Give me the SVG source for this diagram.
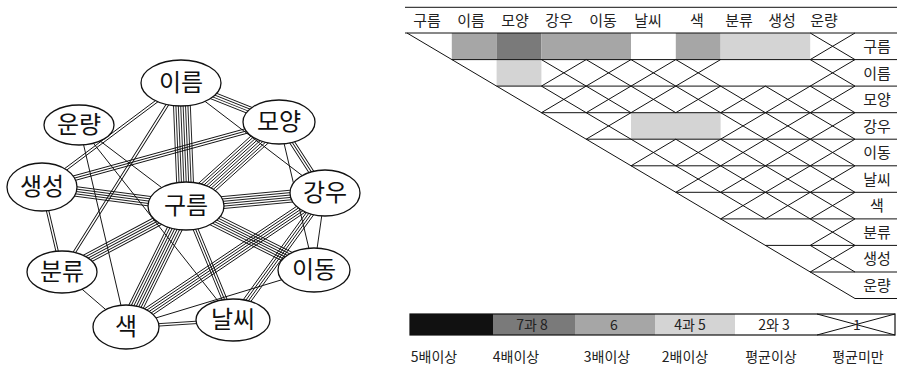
<svg xmlns="http://www.w3.org/2000/svg" width="897" height="373" viewBox="0 0 897 373">
<style>
.e{fill:none;stroke:#111;stroke-width:0.9}
.nd ellipse{fill:#fff;stroke:#111;stroke-width:1.3}
.nd text{font-family:"Noto Sans CJK KR","Noto Sans",sans-serif;font-size:24px;fill:#111;text-anchor:middle}
.gl{fill:none;stroke:#111;stroke-width:1}
.hd{font-family:"Noto Sans CJK KR","Noto Sans",sans-serif;font-size:15px;fill:#222;text-anchor:middle}
.lg{font-family:"Noto Sans CJK KR","Noto Sans",sans-serif;font-size:14px;fill:#222;text-anchor:middle}
.D{fill:#7a7a7a}.M{fill:#a6a6a6}.L{fill:#d4d4d4}
</style>
<rect width="897" height="373" fill="#fff"/>
<g id="connectors">
<path class="e" transform="translate(181 83) rotate(87.67)" d="M0,-8.4h123M0,-6h123M0,-3.6h123M0,-1.2h123M0,1.2h123M0,3.6h123M0,6h123M0,8.4h123"/>
<path class="e" transform="translate(279 122) rotate(137.92)" d="M0,-8.4h125M0,-6h125M0,-3.6h125M0,-1.2h125M0,1.2h125M0,3.6h125M0,6h125M0,8.4h125"/>
<path class="e" transform="translate(186 206) rotate(-5.34)" d="M0,-6h140M0,-3.6h140M0,-1.2h140M0,1.2h140M0,3.6h140M0,6h140"/>
<path class="e" transform="translate(186 206) rotate(26.57)" d="M0,-6h143M0,-3.6h143M0,-1.2h143M0,1.2h143M0,3.6h143M0,6h143"/>
<path class="e" transform="translate(186 206) rotate(67.59)" d="M0,-2.4h123M0,0h123M0,2.4h123"/>
<path class="e" transform="translate(186 206) rotate(116.38)" d="M0,-7.2h135M0,-4.8h135M0,-2.4h135M0,0h135M0,2.4h135M0,4.8h135M0,7.2h135"/>
<path class="e" transform="translate(186 206) rotate(151.98)" d="M0,-4.8h140M0,-2.4h140M0,0h140M0,2.4h140M0,4.8h140"/>
<path class="e" transform="translate(186 206) rotate(-172.48)" d="M0,-4.8h145M0,-2.4h145M0,0h145M0,2.4h145M0,4.8h145"/>
<path class="e" transform="translate(186 206) rotate(-142.87)" d="M0,0h134"/>
<path class="e" transform="translate(181 83) rotate(21.70)" d="M0,-3.6h105M0,-1.2h105M0,1.2h105M0,3.6h105"/>
<path class="e" transform="translate(181 83) rotate(37.37)" d="M0,0h181"/>
<path class="e" transform="translate(181 83) rotate(143.19)" d="M0,-1.2h174M0,1.2h174"/>
<path class="e" transform="translate(181 83) rotate(122.20)" d="M0,-1.2h223M0,1.2h223"/>
<path class="e" transform="translate(279 122) rotate(164.66)" d="M0,-2.4h246M0,0h246M0,2.4h246"/>
<path class="e" transform="translate(279 122) rotate(57.06)" d="M0,-2.4h85M0,0h85M0,2.4h85"/>
<path class="e" transform="translate(279 122) rotate(76.70)" d="M0,0h152"/>
<path class="e" transform="translate(325 193) rotate(146.04)" d="M0,-4.8h240M0,-2.4h240M0,0h240M0,2.4h240M0,4.8h240"/>
<path class="e" transform="translate(325 193) rotate(125.92)" d="M0,-3.6h157M0,-1.2h157M0,1.2h157M0,3.6h157"/>
<path class="e" transform="translate(325 193) rotate(98.13)" d="M0,0h78"/>
<path class="e" transform="translate(126 327) rotate(-3.74)" d="M0,-1.2h107M0,1.2h107"/>
<path class="e" transform="translate(126 327) rotate(-16.87)" d="M0,0h196"/>
<path class="e" transform="translate(126 327) rotate(-139.32)" d="M0,0h84"/>
<path class="e" transform="translate(126 327) rotate(-103.10)" d="M0,0h207"/>
<path class="e" transform="translate(62 272) rotate(-103.24)" d="M0,-1.2h87M0,1.2h87"/>
<path class="e" transform="translate(79 125) rotate(51.70)" d="M0,0h248"/>
</g>
<g id="node-ireum" class="nd"><ellipse cx="181" cy="83" rx="40" ry="23"/><text x="181" y="91">이름</text></g>
<g id="node-unryang" class="nd"><ellipse cx="79" cy="125" rx="35" ry="20"/><text x="79" y="133">운량</text></g>
<g id="node-moyang" class="nd"><ellipse cx="279" cy="122" rx="36" ry="22"/><text x="279" y="130">모양</text></g>
<g id="node-saengseong" class="nd"><ellipse cx="42" cy="187" rx="35" ry="24"/><text x="42" y="195">생성</text></g>
<g id="node-gureum" class="nd"><ellipse cx="186" cy="206" rx="38" ry="24"/><text x="186" y="214">구름</text></g>
<g id="node-gangu" class="nd"><ellipse cx="325" cy="193" rx="35" ry="23"/><text x="325" y="201">강우</text></g>
<g id="node-bunryu" class="nd"><ellipse cx="62" cy="272" rx="35" ry="21"/><text x="62" y="280">분류</text></g>
<g id="node-idong" class="nd"><ellipse cx="314" cy="270" rx="36" ry="22"/><text x="314" y="278">이동</text></g>
<g id="node-saek" class="nd"><ellipse cx="126" cy="327" rx="33" ry="22"/><text x="126" y="335">색</text></g>
<g id="node-nalssi" class="nd"><ellipse cx="233" cy="320" rx="37" ry="21"/><text x="233" y="328">날씨</text></g>

<g id="matrix">
<g id="cells">
<rect class="M" x="451.8" y="33" width="44.8" height="26.6"/>
<rect class="D" x="496.6" y="33" width="44.8" height="26.6"/>
<rect class="M" x="541.4" y="33" width="89.6" height="26.6"/>
<rect class="M" x="675.8" y="33" width="44.8" height="26.6"/>
<rect class="L" x="720.6" y="33" width="89.6" height="26.6"/>
<rect class="L" x="496.6" y="59.6" width="44.8" height="26.5"/>
<rect class="L" x="631" y="112.7" width="89.6" height="26.5"/>
</g>
<g class="gl">
<path d="M405,7.3H897M405,33H897M451.8,59.6H897M496.6,86.1H897M541.4,112.7H897M586.2,139.2H897M631,165.8H897M675.8,192.3H897M720.6,218.9H897M765.4,245.4H897M810.2,272H897M855,298.5H897"/>
<path d="M407,33L855,298.5"/>
<path d="M810.2,59.6L855,33M810.2,33L855,59.6
M541.4,86.1L586.2,59.6M541.4,59.6L586.2,86.1
M586.2,86.1L631,59.6M586.2,59.6L631,86.1
M631,86.1L675.8,59.6M631,59.6L675.8,86.1
M675.8,86.1L720.6,59.6M675.8,59.6L720.6,86.1
M810.2,86.1L855,59.6M810.2,59.6L855,86.1
M541.4,112.7L586.2,86.1M541.4,86.1L586.2,112.7
M586.2,112.7L631,86.1M586.2,86.1L631,112.7
M631,112.7L675.8,86.1M631,86.1L675.8,112.7
M675.8,112.7L720.6,86.1M675.8,86.1L720.6,112.7
M720.6,112.7L765.4,86.1M720.6,86.1L765.4,112.7
M765.4,112.7L810.2,86.1M765.4,86.1L810.2,112.7
M810.2,112.7L855,86.1M810.2,86.1L855,112.7
M586.2,139.2L631,112.7M586.2,112.7L631,139.2
M720.6,139.2L765.4,112.7M720.6,112.7L765.4,139.2
M765.4,139.2L810.2,112.7M765.4,112.7L810.2,139.2
M810.2,139.2L855,112.7M810.2,112.7L855,139.2
M631,165.8L675.8,139.2M631,139.2L675.8,165.8
M675.8,165.8L720.6,139.2M675.8,139.2L720.6,165.8
M720.6,165.8L765.4,139.2M720.6,139.2L765.4,165.8
M765.4,165.8L810.2,139.2M765.4,139.2L810.2,165.8
M810.2,165.8L855,139.2M810.2,139.2L855,165.8
M675.8,192.3L720.6,165.8M675.8,165.8L720.6,192.3
M720.6,192.3L765.4,165.8M720.6,165.8L765.4,192.3
M765.4,192.3L810.2,165.8M765.4,165.8L810.2,192.3
M810.2,192.3L855,165.8M810.2,165.8L855,192.3
M720.6,218.9L765.4,192.3M720.6,192.3L765.4,218.9
M765.4,218.9L810.2,192.3M765.4,192.3L810.2,218.9
M810.2,218.9L855,192.3M810.2,192.3L855,218.9
M810.2,245.4L855,218.9M810.2,218.9L855,245.4
M810.2,272L855,245.4M810.2,245.4L855,272"/>
</g>
<g id="col-labels">
<text class="hd" x="427" y="26">구름</text>
<text class="hd" x="471" y="26">이름</text>
<text class="hd" x="515" y="26">모양</text>
<text class="hd" x="559" y="26">강우</text>
<text class="hd" x="603" y="26">이동</text>
<text class="hd" x="648" y="26">날씨</text>
<text class="hd" x="697" y="26">색</text>
<text class="hd" x="739" y="26">분류</text>
<text class="hd" x="782" y="26">생성</text>
<text class="hd" x="824" y="26">운량</text>
</g>
<g id="row-labels">
<text class="hd" x="877" y="52">구름</text>
<text class="hd" x="877" y="78.5">이름</text>
<text class="hd" x="877" y="105">모양</text>
<text class="hd" x="877" y="131.5">강우</text>
<text class="hd" x="877" y="158">이동</text>
<text class="hd" x="877" y="184.5">날씨</text>
<text class="hd" x="877" y="211">색</text>
<text class="hd" x="877" y="237.5">분류</text>
<text class="hd" x="877" y="264">생성</text>
<text class="hd" x="877" y="290.5">운량</text>
</g>
</g>

<g id="legend">
<rect x="410" y="314" width="83" height="21" fill="#111"/>
<rect x="493" y="314" width="82" height="21" fill="#7a7a7a"/>
<rect x="575" y="314" width="80" height="21" fill="#a6a6a6"/>
<rect x="655" y="314" width="80" height="21" fill="#d4d4d4"/>
<rect x="410" y="314" width="485" height="21" fill="none" stroke="#111" stroke-width="1.2"/>
<path class="gl" d="M817,314L895,335M817,335L895,314"/>
<text class="lg" x="532" y="330">7과 8</text>
<text class="lg" x="614" y="330">6</text>
<text class="lg" x="690" y="330">4과 5</text>
<text class="lg" x="774" y="330">2와 3</text>
<text class="lg" x="857" y="330">1</text>
<text class="lg" x="434" y="362">5배이상</text>
<text class="lg" x="516" y="362">4배이상</text>
<text class="lg" x="607" y="362">3배이상</text>
<text class="lg" x="685" y="362">2배이상</text>
<text class="lg" x="771" y="362">평균이상</text>
<text class="lg" x="858" y="362">평균미만</text>
</g>
</svg>
